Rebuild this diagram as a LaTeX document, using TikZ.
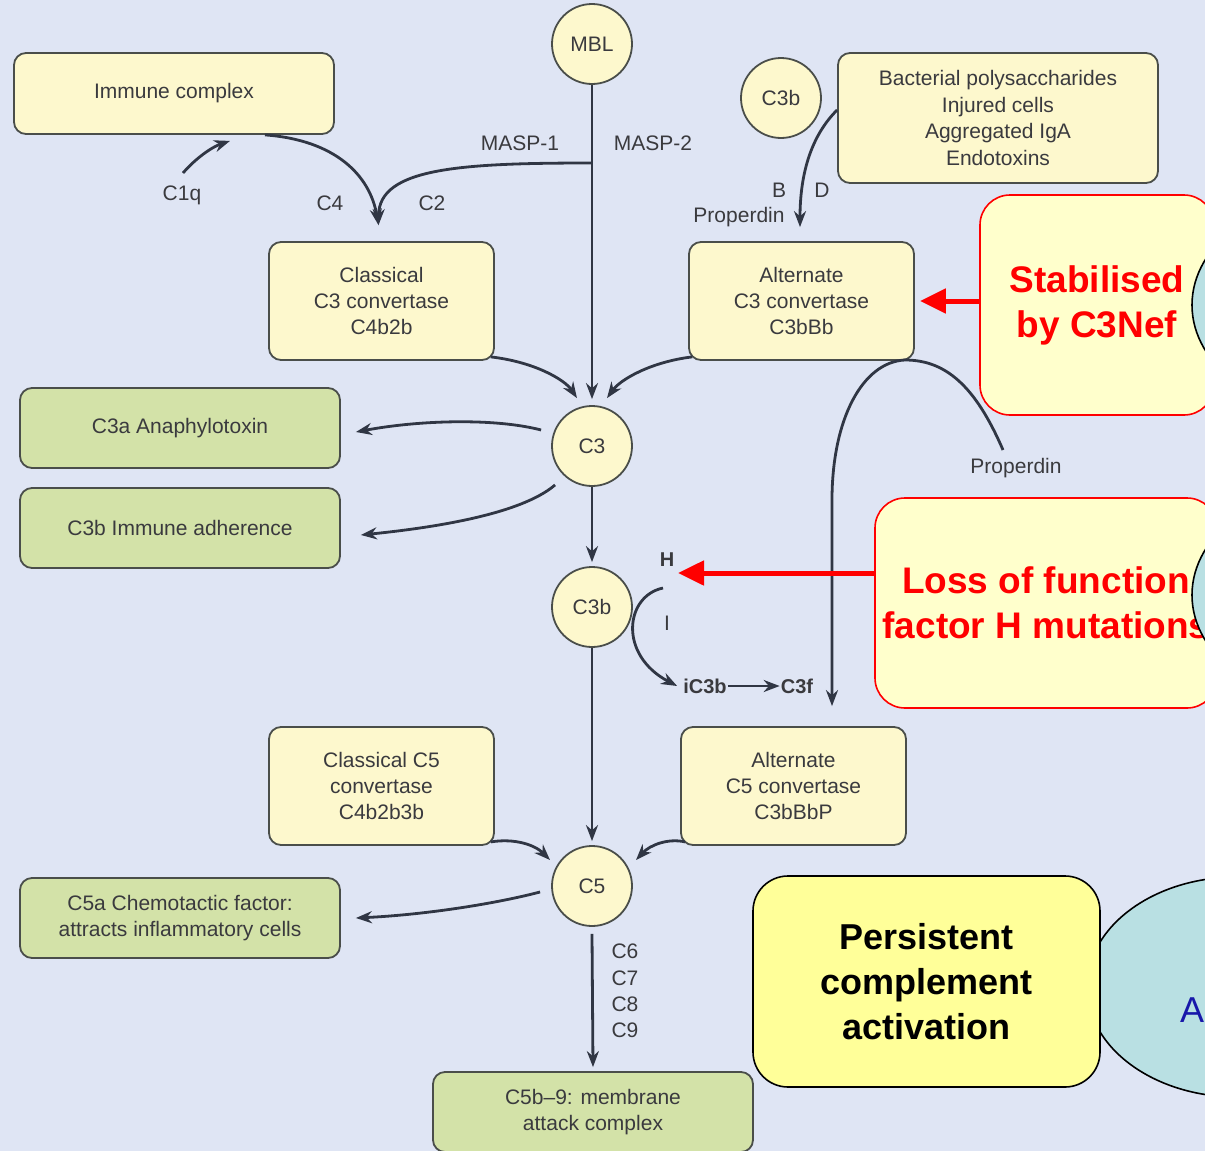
\documentclass[tikz,border=0pt]{standalone}
\usepackage{fontspec}
\setmainfont{Liberation Sans}
\usetikzlibrary{arrows.meta,shapes.geometric}
\definecolor{bgcol}{RGB}{223,229,244}
\definecolor{cream}{RGB}{253,248,205}
\definecolor{leaf}{RGB}{211,226,168}
\definecolor{edgecol}{RGB}{74,78,74}
\definecolor{linecol}{RGB}{48,54,68}
\definecolor{txt}{RGB}{58,58,62}
\definecolor{notefill}{RGB}{255,255,204}
\definecolor{brightyellow}{RGB}{255,255,153}
\definecolor{paleblue}{RGB}{185,224,227}
\definecolor{deepblue}{RGB}{24,24,170}
\begin{document}
\begin{tikzpicture}[x=1pt,y=-1pt,
  base/.style={text=txt,font=\fontsize{21}{26.4}\selectfont},
  ybox/.style={base,draw=edgecol,fill=cream,rounded corners=12pt,line width=1.8pt,align=center,inner sep=0pt},
  gbox/.style={ybox,fill=leaf},
  circ/.style={base,circle,draw=edgecol,fill=cream,line width=1.8pt,minimum size=80pt,inner sep=0pt},
  lbl/.style={base,inner sep=1pt},
  blbl/.style={lbl,font=\fontsize{20}{24}\selectfont\bfseries},
  note/.style={draw=red,fill=notefill,line width=1.6pt,rounded corners=30pt,align=center,inner sep=0pt,
    text=red,font=\fontsize{37}{45}\selectfont\bfseries},
  blob/.style={ellipse,draw=black,line width=1.6pt,fill=paleblue,minimum width=300pt,minimum height=220pt,inner sep=0pt},
  arr/.style={draw=linecol,line width=2.8pt,-{Stealth[length=16pt,width=12pt]}},
  redarr/.style={draw=red,line width=5pt,-{Triangle[length=26pt,width=24pt]}}]

% canvas
\useasboundingbox (0,0) rectangle (1205,1151);
\fill[bgcol] (0,0) rectangle (1205,1151);
\clip (0,0) rectangle (1205,1151);

% --- boxes of the cascade ---
\node[ybox,minimum width=320pt,minimum height=81pt] (immune) at (174,93.5) {Immune complex};
\node[ybox,minimum width=320pt,minimum height=130pt] (bact) at (998,118) {Bacterial polysaccharides\\Injured cells\\Aggregated IgA\\Endotoxins};
\node[ybox,minimum width=225pt,minimum height=118pt] (clc3) at (381.5,301) {Classical\\C3 convertase\\C4b2b};
\node[ybox,minimum width=225pt,minimum height=118pt] (altc3) at (801.5,301) {Alternate\\C3 convertase\\C3bBb};
\node[gbox,minimum width=320pt,minimum height=80pt] (c3a) at (180,428) {C3a Anaphylotoxin};
\node[gbox,minimum width=320pt,minimum height=80pt] (c3bi) at (180,528) {C3b Immune adherence};
\node[ybox,minimum width=225pt,minimum height=118pt] (clc5) at (381.5,786) {Classical C5\\convertase\\C4b2b3b};
\node[ybox,minimum width=225pt,minimum height=118pt] (altc5) at (793.5,786) {Alternate\\C5 convertase\\C3bBbP};
\node[gbox,minimum width=320pt,minimum height=80pt] (c5a) at (180,918) {C5a Chemotactic factor:\\attracts inflammatory cells};
\node[gbox,minimum width=320pt,minimum height=80pt] (mac) at (593,1112) {C5b--9: membrane\\attack complex};

% --- circles ---
\node[circ] (mbl) at (592,44) {MBL};
\node[circ] (c3btop) at (781,98) {C3b};
\node[circ] (c3) at (592,446) {C3};
\node[circ] (c3b) at (592,607) {C3b};
\node[circ] (c5) at (592,886) {C5};

% --- labels ---
\node[lbl] (c1q) at (182,195) {C1q};
\node[lbl] (c4) at (330,203) {C4};
\node[lbl] (c2) at (432,203) {C2};
\node[lbl] (masp1) at (520,143) {MASP-1};
\node[lbl] (masp2) at (653,143) {MASP-2};
\node[lbl] (fb) at (779,190) {B};
\node[lbl] (fd) at (822,190) {D};
\node[lbl] (prop1) at (739,217) {Properdin};
\node[lbl] (prop2) at (1016,468) {Properdin};
\node[blbl] (hlab) at (667,560) {H};
\node[lbl] (ilab) at (667,623) {I};
\node[blbl] (ic3b) at (705,686) {iC3b};
\node[blbl] (c3f) at (797,686) {C3f};
\node[lbl,align=left] (c69) at (625,991) {C6\\C7\\C8\\C9};

% --- annotation boxes and bubbles ---
\node[note,minimum width=234pt,minimum height=220pt] (red1) at (1097,305) {Stabilised\\by C3Nef};
\node[note,minimum width=342pt,minimum height=210pt] (red2) at (1046,603) {Loss of function\\factor H mutations};
\node[blob] (bub1) at (1342,305) {};
\node[blob] (bub2) at (1342,595) {};
\node[blob] (bub3) at (1237,987) {};
\node[text=deepblue,font=\fontsize{36}{43}\selectfont,anchor=west,inner sep=0pt] (alab) at (1180,1010) {A};
\node[draw=black,fill=brightyellow,line width=1.6pt,rounded corners=35pt,minimum width=347pt,minimum height=211pt,
  align=center,inner sep=0pt,font=\fontsize{36}{45}\selectfont\bfseries] (persist) at (926.5,981.5)
  {Persistent\\complement\\activation};

% --- connectors ---
\coordinate (c1qtail) at (183,173);
\draw[arr] (c1qtail) .. controls (196,158) and (212,147) .. ([xshift=56pt,yshift=-6pt]immune.south);
\draw[arr] ([xshift=91pt]immune.south) .. controls (335,140) and (370,175) .. ([xshift=-3pt,yshift=16pt]clc3.north);
\coordinate (maspfork) at (592,163);
\draw[arr] (maspfork) .. controls (460,163) and (379,168) .. ([xshift=-3pt,yshift=16pt]clc3.north);
\draw[arr] (mbl.south) -- ([yshift=6pt]c3.north);
\draw[arr] ([yshift=8pt]bact.west) .. controls (812,135) and (800,172) .. ([xshift=-1.5pt,yshift=14pt]altc3.north);
\draw[redarr] (altc3.east -| red1.west) -- ([xshift=5pt]altc3.east);

\draw[arr] ([xshift=-4pt,yshift=4pt]clc3.south east) .. controls (535,362) and (565,380) .. ([xshift=-15pt,yshift=7pt]c3.north);
\draw[arr] ([xshift=4pt,yshift=4pt]altc3.south west) .. controls (650,362) and (620,380) .. ([xshift=15pt,yshift=7pt]c3.north);

\draw[arr] ([xshift=-10pt,yshift=16pt]c3.west) .. controls (495,418) and (420,420) .. ([xshift=15pt,yshift=-4pt]c3a.east);
\draw[arr] ([xshift=-8pt,yshift=-10pt]c3.south west) .. controls (520,515) and (430,528) .. ([xshift=20pt,yshift=-7pt]c3bi.east);
\draw[arr] (c3) -- ([yshift=4pt]c3b.north);

\coordinate (proptail) at (1003,450);
\draw[arr] (proptail) .. controls (975,385) and (945,360) .. (905,360)
  .. controls (862,362) and (832,420) .. (832,500) -- ([xshift=38.5pt,yshift=20pt]altc5.north);

\coordinate (htip) at (678,573);
\draw[redarr] (htip -| red2.west) -- (htip);
\coordinate (istart) at (663,588);
\draw[arr] (istart) .. controls (625,596) and (618,655) .. ([xshift=-5pt]ic3b.west);
\draw[arr] (ic3b) -- (c3f);

\draw[arr] (c3b) -- ([yshift=4pt]c5.north);
\draw[arr] ([xshift=-4pt,yshift=4pt]clc5.south east) .. controls (515,838) and (535,845) .. ([xshift=-42pt,yshift=26pt]c5.center);
\draw[arr] ([xshift=5pt,yshift=4pt]altc5.south west) .. controls (668,838) and (650,845) .. ([xshift=44pt,yshift=26pt]c5.center);
\draw[arr] ([xshift=-11pt,yshift=-6pt]c5.west) .. controls (490,905) and (420,915) .. ([xshift=15pt]c5a.east);
\draw[arr] ([yshift=-7pt]c5.south) -- ([yshift=4pt]mac.north);
\end{tikzpicture}
\end{document}
